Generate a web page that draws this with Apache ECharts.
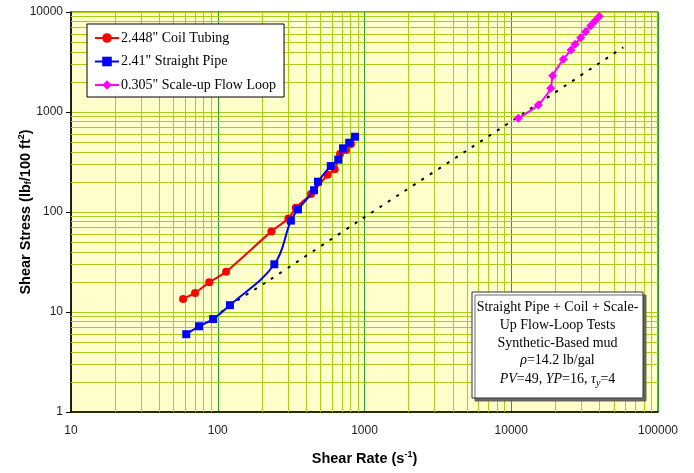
<!DOCTYPE html>
<html>
<head>
<meta charset="utf-8">
<script src="https://cdn.jsdelivr.net/npm/echarts@6/dist/echarts.min.js"></script>
<style>html,body{margin:0;padding:0;background:#fff;}#c{width:694px;height:473px;}</style>
</head>
<body>
<div id="c"></div>
<script>
// ---- data ----
const coilRate   = [58, 70, 87.5, 114, 232, 303, 340, 432, 561, 626, 681, 748, 809];
const coilStress = [13.5, 15.5, 19.8, 25.3, 64, 86, 110, 151, 236, 267, 380, 417, 479];
const pipeRate   = [61, 74.5, 93, 121, 243, 315, 352, 453, 482, 589, 663, 714, 787, 861];
const pipeStress = [6.0, 7.2, 8.5, 11.7, 30, 82, 106, 165, 201, 288, 334, 433, 493, 566];
const loopRate   = [11170, 15290, 18570, 19150, 22630, 25540, 27190, 29730, 32150, 34770, 37200, 39800];
const loopStress = [865, 1175, 1725, 2307, 3363, 4169, 4753, 5530, 6350, 7300, 8130, 9060];
const modelRate   = [93, 131, 210, 957, 9400, 58000];
const modelStress = [8.7, 12.6, 19.5, 85, 759, 4436];
const xTicks = [10, 100, 1000, 10000, 100000];
const yTicks = [1, 10, 100, 1000, 10000];
const names = ['2.448" Coil Tubing', '2.41" Straight Pipe', '0.305" Scale-up Flow Loop'];
const noteLines = [
  'Straight Pipe + Coil + Scale-',
  'Up Flow-Loop Tests',
  'Synthetic-Based mud',
  '{i|ρ}=14.2 lb/gal',
  '{i|PV}=49, {i|YP}=16, {i|τ}{sub|y}=4'
];

const pair = (xs, ys) => xs.map((x, i) => [x, ys[i]]);

// minor gridlines (2..9 within each decade)
const vMinor = [], hMinor = [];
for (let d = 0; d < xTicks.length - 1; d++)
  for (let m = 2; m <= 9; m++) vMinor.push(xTicks[d] * m);
for (let d = 0; d < yTicks.length - 1; d++)
  for (let m = 2; m <= 9; m++) hMinor.push(yTicks[d] * m);

const minorColor = '#A5CF1A';
const serif = 'Liberation Serif';
const sans = 'Liberation Sans';

const chart = echarts.init(document.getElementById('c'));
const noteCx = 557.5, noteTop = 300.5;
const graphic = [
  { type: 'rect', shape: { x: 472, y: 292, width: 171, height: 106 },
    style: { fill: '#fff', stroke: '#333', lineWidth: 1, shadowColor: 'rgba(90,90,90,0.9)', shadowOffsetX: 3, shadowOffsetY: 3, shadowBlur: 0 }, z: 20 }
];
noteLines.forEach((t, i) => {
  graphic.push({
    type: 'text', z: 21, x: noteCx, y: noteTop + i * 17.7,
    style: {
      text: t, fill: '#000', font: '14px ' + serif, textAlign: 'center', textVerticalAlign: 'top',
      rich: {
        i: { fontStyle: 'italic', fontFamily: serif, fontSize: 14, fill: '#000' },
        sub: { fontStyle: 'italic', fontFamily: serif, fontSize: 10, fill: '#000', padding: [7, 0, 0, 0] }
      }
    }
  });
});

const plain = v => String(v);

chart.setOption({
  animation: false,
  backgroundColor: '#fff',
  grid: { left: 71, right: 36, top: 12, bottom: 61, show: true, backgroundColor: '#FFFFCC', borderColor: '#222', borderWidth: 1,
          containLabel: false, outerBoundsMode: 'none' },
  legend: {
    data: names, orient: 'vertical', left: 87, top: 24,
    backgroundColor: '#fff', borderColor: '#000', borderWidth: 1,
    padding: [7, 8, 5, 7], itemGap: 9.5, itemWidth: 24, itemHeight: 12,
    textStyle: { fontFamily: serif, fontSize: 14, color: '#000', padding: [0, 0, 0, -3] }
  },
  xAxis: {
    type: 'log', logBase: 10, min: 10, max: 100000,
    name: '{b|Shear Rate (s}{s|-1}{b|)}', nameLocation: 'middle', nameGap: 38, nameMoveOverlap: false,
    nameTextStyle: { rich: {
      b: { fontFamily: sans, fontWeight: 'bold', fontSize: 14.5, color: '#000' },
      s: { fontFamily: sans, fontWeight: 'bold', fontSize: 9, color: '#000', padding: [0, 0, 8, 0] } } },
    axisLine: { lineStyle: { color: '#000', width: 1.5 } },
    axisTick: { show: false },
    axisLabel: { fontFamily: sans, fontSize: 12, color: '#222', margin: 13, formatter: plain },
    splitLine: { show: true, lineStyle: { color: '#2E9B2E', width: 1 } },
    minorTick: { show: false }
  },
  yAxis: {
    type: 'log', logBase: 10, min: 1, max: 10000,
    name: '{b|Shear Stress (lb}{f|f}{b|/100 ft}{s|2}{b|)}', nameLocation: 'middle', nameGap: 37, nameRotate: 90, nameMoveOverlap: false,
    nameTextStyle: { rich: {
      b: { fontFamily: sans, fontWeight: 'bold', fontSize: 14.5, color: '#000' },
      f: { fontFamily: sans, fontWeight: 'bold', fontSize: 9, color: '#000', padding: [7, 0, 0, 0] },
      s: { fontFamily: sans, fontWeight: 'bold', fontSize: 9, color: '#000', padding: [0, 0, 8, 0] } } },
    axisLine: { show: true, lineStyle: { color: '#000', width: 1.5 } },
    axisTick: { show: true, length: 5, lineStyle: { color: '#000' } },
    axisLabel: { fontFamily: sans, fontSize: 12, color: '#222', margin: 8, formatter: plain },
    splitLine: { show: true, lineStyle: { color: minorColor, width: 1 } }
  },
  graphic: graphic,
  series: [
    {
      name: 'grid', type: 'line', data: [[10, 1]], showSymbol: false, silent: true, z: 1,
      lineStyle: { opacity: 0 },
      markLine: {
        silent: true, symbol: 'none', z: 1, animation: false,
        label: { show: false },
        lineStyle: { color: minorColor, width: 1, type: 'solid' },
        emphasis: { disabled: true },
        data: vMinor.map(v => ({ xAxis: v })).concat(hMinor.map(v => ({ yAxis: v })))
      }
    },
    {
      name: 'model', type: 'line', data: pair(modelRate, modelStress), showSymbol: false, z: 8,
      lineStyle: { color: '#000', width: 2, type: [3, 7] }, smooth: 0.3
    },
    {
      name: names[0], type: 'line', data: pair(coilRate, coilStress), z: 10,
      symbol: 'circle', symbolSize: 8, smooth: 0.25,
      itemStyle: { color: '#FF0000' }, lineStyle: { color: '#FF0000', width: 2 }
    },
    {
      name: names[1], type: 'line', data: pair(pipeRate, pipeStress), z: 11,
      symbol: 'rect', symbolSize: 8, smooth: 0.4,
      itemStyle: { color: '#0000FF' }, lineStyle: { color: '#0000FF', width: 2 }
    },
    {
      name: names[2], type: 'line', data: pair(loopRate, loopStress), z: 10,
      symbol: 'diamond', symbolSize: 9, smooth: 0.2,
      itemStyle: { color: '#FF00FF' }, lineStyle: { color: '#FF00FF', width: 2 }
    }
  ]
});
</script>
</body>
</html>
